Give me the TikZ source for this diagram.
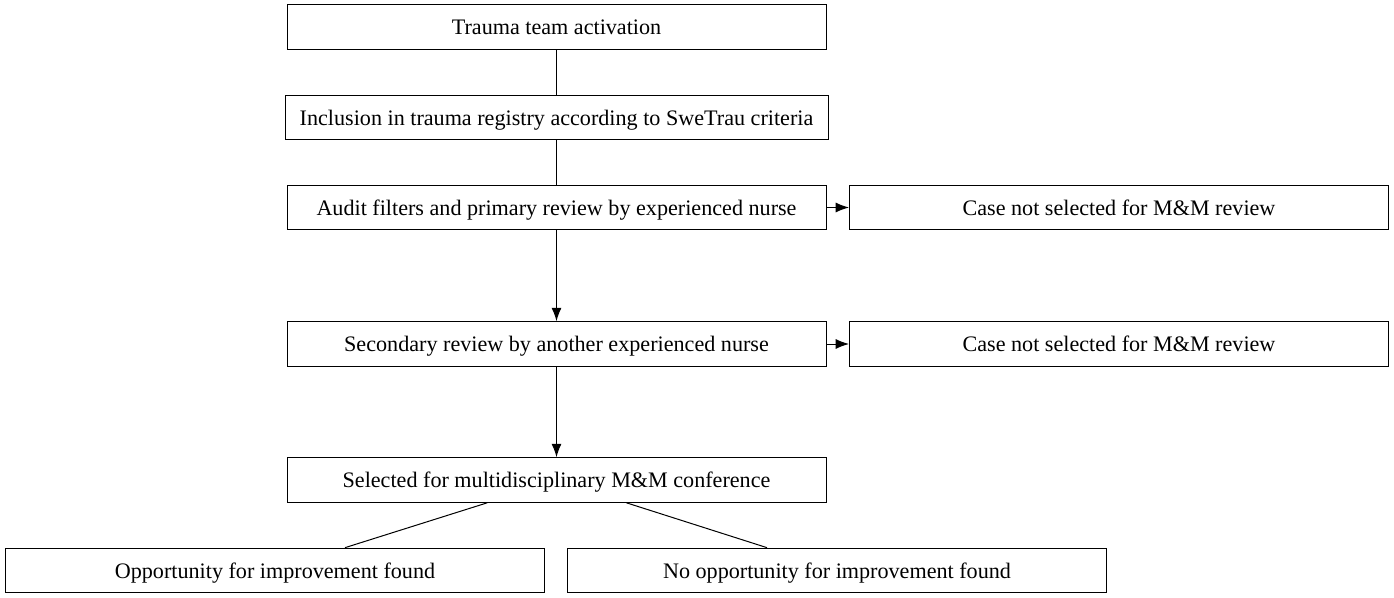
\documentclass[tikz,border=0pt]{standalone}
\usepackage{fontspec}
\setmainfont{Liberation Serif}
\usetikzlibrary{arrows.meta,positioning,calc}

\tikzset{
  stagebox/.style={draw, line width=0.75pt, minimum width=404.25pt, minimum height=33.5pt, inner sep=0pt, text height=11.5pt, text depth=0pt, font=\fontsize{16.6}{19}\selectfont},
  widebox/.style={stagebox, minimum width=407.25pt},
  link/.style={line width=0.75pt},
  flow/.style={link, -{Latex[length=10pt,width=7.5pt]}}
}

\begin{document}
\begin{tikzpicture}[x=0.75pt, y=-0.75pt]
\useasboundingbox (0,0) rectangle (1394,598);

% main column
\node[stagebox] (activation) at (556.5,27) {Trauma team activation};
\node[widebox] (registry) at (556.5,117.5) {Inclusion in trauma registry according to SweTrau criteria};
\node[stagebox] (primary) at (556.5,207.5) {Audit filters and primary review by experienced nurse};
\node[stagebox] (secondary) at (556.5,344) {Secondary review by another experienced nurse};
\node[stagebox] (conference) at (556.5,480) {Selected for multidisciplinary M\&M conference};

% side boxes
\node[stagebox] (notsel1) at (1119,207.5) {Case not selected for M\&M review};
\node[stagebox] (notsel2) at (1119,344) {Case not selected for M\&M review};

% outcomes
\node[stagebox] (ofi) at (275,570.5) {Opportunity for improvement found};
\node[stagebox] (noofi) at (837,570.5) {No opportunity for improvement found};

\draw[link] (activation) -- (registry);
\draw[link] (registry) -- (primary);
\draw[flow] (primary) -- (secondary);
\draw[flow] (secondary) -- (conference);
\draw[flow] (primary) -- (notsel1);
\draw[flow] (secondary) -- (notsel2);
\draw[link] ([xshift=-52pt]conference.south) -- ([xshift=52.5pt]ofi.north);
\draw[link] ([xshift=52.5pt]conference.south) -- ([xshift=-52.5pt]noofi.north);
\end{tikzpicture}
\end{document}
